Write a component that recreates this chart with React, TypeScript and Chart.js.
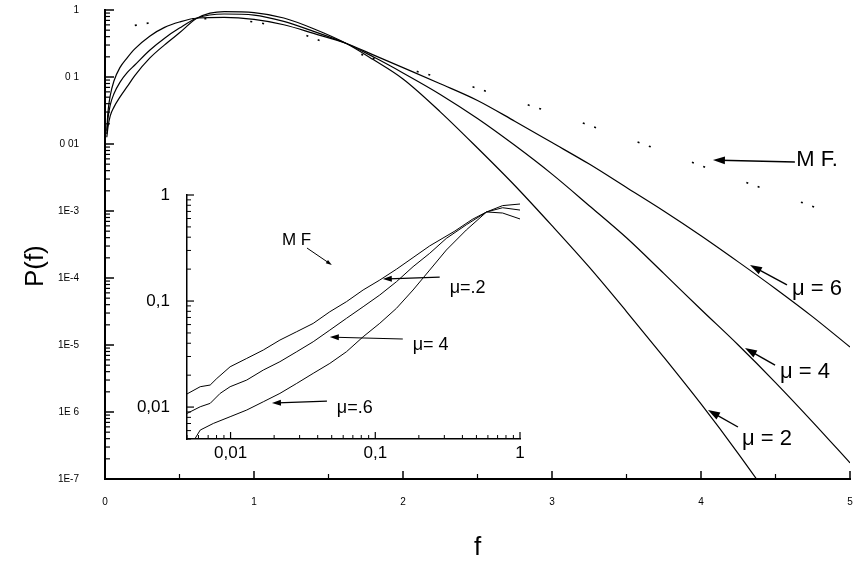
import { useEffect, useRef } from 'react';
import { Chart, registerables } from 'chart.js';

Chart.register(...registerables);

const FONT = "'Liberation Sans', Arial, Helvetica, sans-serif";

// ---- Main panel: P(f) on a log axis against f ----
const fMain = [0.012, 0.02, 0.035, 0.06, 0.1, 0.15, 0.2, 0.3, 0.4, 0.5, 0.62, 0.8, 1.0, 1.2, 1.4, 1.62, 1.8, 2.0, 2.25, 2.5, 2.75, 3.0, 3.25, 3.5, 3.75, 4.0, 4.25, 4.5, 4.75, 5.0];
const pMu2 = [0.0126, 0.0178, 0.0263, 0.0355, 0.0501, 0.0724, 0.105, 0.191, 0.302, 0.457, 0.759, 0.944, 0.912, 0.759, 0.525, 0.316, 0.182, 0.0933, 0.0302, 8.71e-3, 2.4e-3, 6.03e-4, 1.45e-4, 3.16e-5, 6.61e-6, 1.32e-6, 2.4e-7, 3.98e-8, null, null];
const pMu4 = [0.0141, 0.024, 0.038, 0.0562, 0.0832, 0.117, 0.151, 0.251, 0.38, 0.537, 0.759, 0.871, 0.841, 0.676, 0.479, 0.316, 0.2, 0.115, 0.055, 0.024, 9.55e-3, 3.55e-3, 1.2e-3, 3.98e-4, 1.17e-4, 3.39e-5, 1.0e-5, 2.75e-6, 7.08e-7, 1.74e-7];
const pMu6 = [0.0158, 0.0302, 0.0525, 0.0871, 0.138, 0.195, 0.263, 0.407, 0.55, 0.661, 0.759, 0.776, 0.724, 0.603, 0.447, 0.316, 0.214, 0.138, 0.0794, 0.0447, 0.0219, 0.0105, 5.01e-3, 2.24e-3, 1.0e-3, 4.27e-4, 1.74e-4, 6.92e-5, 2.63e-5, 9.33e-6];
const fMF = [0.2, 0.4, 0.6, 0.8, 1.0, 1.2, 1.5, 1.8, 2.1, 2.4, 2.7, 3.0, 3.3, 3.6, 3.9, 4.2, 4.5, 4.8, 5.0];
const pMF = [0.589, 0.692, 0.741, 0.724, 0.661, 0.537, 0.316, 0.191, 0.12, 0.0794, 0.0479, 0.0295, 0.0174, 0.0102, 5.75e-3, 3.24e-3, 1.86e-3, 1.07e-3, 7.59e-4];

const mainXTicks = [0, 1, 2, 3, 4, 5];
const mainXLabels = ['0', '1', '2', '3', '4', '5'];
const mainYTicks = [1e-7, 1e-6, 1e-5, 1e-4, 1e-3, 1e-2, 1e-1, 1];
const mainYLabels = ['1E-7', '1E 6', '1E-5', '1E-4', '1E-3', '0 01', '0 1', '1'];

// ---- Inset: small-f region on log-log axes ----
const insetF02 = [0.005, 0.00617, 0.00723, 0.00804, 0.00993, 0.01294, 0.01683, 0.02193, 0.02864, 0.03724, 0.04853, 0.06324, 0.08241, 0.1074, 0.14, 0.1824, 0.2377, 0.3548, 0.4677, 0.5875, 0.7586, 1.0];
const insetP02 = [0.0133, 0.01556, 0.01614, 0.01862, 0.02399, 0.02877, 0.03451, 0.04285, 0.0514, 0.06152, 0.07925, 0.09863, 0.1271, 0.1578, 0.1995, 0.257, 0.3311, 0.4571, 0.5888, 0.6918, 0.6761, 0.5943];
const insetF04 = [0.005, 0.00617, 0.00723, 0.00847, 0.00993, 0.01294, 0.01683, 0.02193, 0.02864, 0.03724, 0.04853, 0.06324, 0.08241, 0.1074, 0.14, 0.1824, 0.2377, 0.3097, 0.4266, 0.5875, 0.7586, 1.0];
const insetP04 = [0.00871, 0.01007, 0.01084, 0.01346, 0.01556, 0.01799, 0.02234, 0.02679, 0.03327, 0.0413, 0.05321, 0.06871, 0.08831, 0.114, 0.1521, 0.2109, 0.2818, 0.3899, 0.5248, 0.6918, 0.7586, 0.7211];
const insetF06 = [0.00569, 0.00617, 0.0076, 0.00993, 0.01294, 0.01683, 0.02193, 0.02864, 0.03724, 0.04853, 0.06324, 0.08241, 0.1074, 0.14, 0.1824, 0.2377, 0.3097, 0.4256, 0.5875, 0.7586, 1.0];
const insetP06 = [0.00506, 0.00607, 0.00701, 0.00811, 0.00938, 0.01122, 0.01346, 0.01671, 0.0208, 0.02582, 0.03327, 0.04603, 0.06166, 0.08531, 0.1271, 0.1959, 0.3027, 0.4677, 0.6918, 0.7943, 0.8222];

const insetTicks = [0.01, 0.1, 1];
const insetTickLabels = ['0,01', '0,1', '1'];

type Pt = [number, number];
interface Note { text: string; at: Pt; size: number }
interface Arrow { from: Pt; to: Pt; head: number; width: number }

// Curve labels and pointer arrows, placed in data coordinates
const mainNotes: Note[] = [
  { text: 'M F.', at: [4.64, 5.75e-3], size: 22 },
  { text: 'μ = 6', at: [4.61, 6.9e-5], size: 22 },
  { text: 'μ = 4', at: [4.53, 4.0e-6], size: 22 },
  { text: 'μ = 2', at: [4.275, 3.9e-7], size: 22 },
];
const mainArrows: Arrow[] = [
  { from: [4.63, 5.4e-3], to: [4.08, 5.75e-3], head: 12, width: 1.4 },
  { from: [4.577, 7.9e-5], to: [4.329, 1.56e-4], head: 12, width: 1.4 },
  { from: [4.497, 5.0e-6], to: [4.295, 9.0e-6], head: 12, width: 1.4 },
  { from: [4.248, 5.97e-7], to: [4.047, 1.07e-6], head: 12, width: 1.4 },
];
const insetNotes: Note[] = [
  { text: 'M F', at: [0.02265, 0.376], size: 17 },
  { text: 'μ=.2', at: [0.3266, 0.1327], size: 18 },
  { text: 'μ= 4', at: [0.1814, 0.03846], size: 18 },
  { text: 'μ=.6', at: [0.0542, 0.009795], size: 18 },
];
const insetArrows: Arrow[] = [
  { from: [0.03373, 0.3162], to: [0.0501, 0.2188], head: 6, width: 1 },
  { from: [0.2786, 0.1683], to: [0.1127, 0.1614], head: 9, width: 1.2 },
  { from: [0.1549, 0.04385], to: [0.04853, 0.04571], head: 9, width: 1.2 },
  { from: [0.04634, 0.0114], to: [0.01932, 0.01091], head: 9, width: 1.2 },
];

// Inward-pointing tick marks (major + minor) along the left and bottom axes
function logMarks(min: number, max: number) {
  const out: { value: number; major: boolean }[] = [];
  const e0 = Math.floor(Math.log10(min));
  const e1 = Math.ceil(Math.log10(max));
  for (let e = e0; e <= e1; e++) {
    for (let k = 1; k <= 9; k++) {
      const v = k * Math.pow(10, e);
      if (v >= min * (1 - 1e-9) && v <= max * (1 + 1e-9)) out.push({ value: v, major: k === 1 });
    }
  }
  return out;
}
function linMarks(min: number, max: number, step: number, majorEvery: number) {
  const out: { value: number; major: boolean }[] = [];
  for (let v = min; v <= max + 1e-9; v += step) {
    const r = v / majorEvery;
    out.push({ value: v, major: Math.abs(r - Math.round(r)) < 1e-9 });
  }
  return out;
}

const innerTicks = {
  id: 'innerTicks',
  afterDraw(chart: any, _args: any, opts: any) {
    const { ctx, chartArea } = chart;
    ctx.save();
    ctx.strokeStyle = '#000';
    for (const axis of ['x', 'y']) {
      const cfg = opts[axis];
      if (!cfg) continue;
      const scale = chart.scales[axis];
      const marks = cfg.log ? logMarks(scale.min, scale.max) : linMarks(scale.min, scale.max, cfg.step, cfg.majorEvery);
      for (const m of marks) {
        const p = scale.getPixelForValue(m.value);
        const len = m.major ? cfg.majorLen : cfg.minorLen;
        ctx.lineWidth = m.major ? cfg.majorWidth : cfg.minorWidth;
        ctx.beginPath();
        if (axis === 'x') {
          ctx.moveTo(p, chartArea.bottom);
          ctx.lineTo(p, chartArea.bottom - len);
        } else {
          ctx.moveTo(chartArea.left, p);
          ctx.lineTo(chartArea.left + len, p);
        }
        ctx.stroke();
      }
    }
    ctx.restore();
  },
};

const notesPlugin = {
  id: 'notes',
  afterDatasetsDraw(chart: any, _args: any, opts: any) {
    const { ctx } = chart;
    const sx = chart.scales.x;
    const sy = chart.scales.y;
    ctx.save();
    ctx.fillStyle = '#000';
    ctx.strokeStyle = '#000';
    for (const a of opts.arrows || []) {
      const x0 = sx.getPixelForValue(a.from[0]);
      const y0 = sy.getPixelForValue(a.from[1]);
      const x1 = sx.getPixelForValue(a.to[0]);
      const y1 = sy.getPixelForValue(a.to[1]);
      const ang = Math.atan2(y1 - y0, x1 - x0);
      const h = a.head;
      ctx.lineWidth = a.width;
      ctx.beginPath();
      ctx.moveTo(x0, y0);
      ctx.lineTo(x1 - Math.cos(ang) * h * 0.6, y1 - Math.sin(ang) * h * 0.6);
      ctx.stroke();
      ctx.beginPath();
      ctx.moveTo(x1, y1);
      ctx.lineTo(x1 - Math.cos(ang) * h + Math.sin(ang) * h * 0.33, y1 - Math.sin(ang) * h - Math.cos(ang) * h * 0.33);
      ctx.lineTo(x1 - Math.cos(ang) * h - Math.sin(ang) * h * 0.33, y1 - Math.sin(ang) * h + Math.cos(ang) * h * 0.33);
      ctx.closePath();
      ctx.fill();
    }
    ctx.textAlign = 'left';
    ctx.textBaseline = 'middle';
    for (const n of opts.labels || []) {
      ctx.font = `${n.size}px ${FONT}`;
      ctx.fillText(n.text, sx.getPixelForValue(n.at[0]), sy.getPixelForValue(n.at[1]));
    }
    ctx.restore();
  },
};

function series(xs: number[], ys: (number | null)[], width: number, extra: Record<string, unknown> = {}) {
  return {
    data: xs.map((x, i) => ({ x, y: ys[i] })),
    borderColor: '#000',
    backgroundColor: '#000',
    borderWidth: width,
    pointRadius: 0,
    fill: false,
    ...extra,
  };
}

function fixedTicks(values: number[]) {
  return (scale: any) => {
    scale.ticks = values.map((value) => ({ value }));
  };
}

// Fix an axis' thickness and keep its label padding from eating into the plot area
function fitX(height: number, side: number) {
  return (s: any) => {
    s.height = height;
    s.paddingLeft = side;
    s.paddingRight = side;
  };
}
function fitY(width: number, ends: number) {
  return (s: any) => {
    s.width = width;
    s.paddingTop = ends;
    s.paddingBottom = ends;
  };
}

function mainConfig(): any {
  const smooth = { cubicInterpolationMode: 'monotone' };
  return {
    type: 'line',
    data: {
      datasets: [
        series(fMain, pMu2, 1.2, smooth),
        series(fMain, pMu4, 1.2, smooth),
        series(fMain, pMu6, 1.2, smooth),
        series(fMF, pMF, 1.6, { ...smooth, borderDash: [2, 10, 2, 44] }),
      ],
    },
    options: {
      responsive: false,
      animation: false,
      layout: { padding: { left: 0, top: 10, right: 3, bottom: 0 } },
      plugins: {
        legend: { display: false },
        tooltip: { enabled: false },
        innerTicks: {
          x: { log: false, step: 0.5, majorEvery: 1, majorLen: 8, minorLen: 5, majorWidth: 1.5, minorWidth: 1.2 },
          y: { log: true, majorLen: 9, minorLen: 5, majorWidth: 1.5, minorWidth: 1.2 },
        },
        notes: { labels: mainNotes, arrows: mainArrows },
      },
      scales: {
        x: {
          type: 'linear',
          min: 0,
          max: 5,
          afterBuildTicks: fixedTicks(mainXTicks),
          afterFit: fitX(84, 3),
          grid: { display: false, drawTicks: false },
          border: { display: true, width: 2, color: '#000' },
          ticks: {
            autoSkip: false,
            maxRotation: 0,
            padding: 17,
            color: '#000',
            font: { family: FONT, size: 10 },
            callback: (_v: any, i: number) => mainXLabels[i],
          },
          title: { display: true, text: 'f', color: '#000', font: { family: FONT, size: 26 }, padding: { top: 0, bottom: 0 } },
        },
        y: {
          type: 'logarithmic',
          min: 1e-7,
          max: 1,
          afterBuildTicks: fixedTicks(mainYTicks),
          afterFit: fitY(105, 6),
          grid: { display: false, drawTicks: false },
          border: { display: true, width: 2, color: '#000' },
          ticks: {
            autoSkip: false,
            padding: 26,
            color: '#000',
            font: { family: FONT, size: 10 },
            callback: (_v: any, i: number) => mainYLabels[i],
          },
          title: { display: true, text: 'P(f)      ', color: '#000', font: { family: FONT, size: 26 }, padding: { top: 20, bottom: 0 } },
        },
      },
    },
    plugins: [innerTicks, notesPlugin],
  };
}

function insetConfig(): any {
  return {
    type: 'line',
    data: {
      datasets: [
        series(insetF02, insetP02, 1),
        series(insetF04, insetP04, 1),
        series(insetF06, insetP06, 1),
      ],
    },
    options: {
      responsive: false,
      animation: false,
      layout: { padding: { left: 0, top: 15, right: 20, bottom: 0 } },
      plugins: {
        legend: { display: false },
        tooltip: { enabled: false },
        innerTicks: {
          x: { log: true, majorLen: 7, minorLen: 4, majorWidth: 1.2, minorWidth: 1 },
          y: { log: true, majorLen: 7, minorLen: 4, majorWidth: 1.2, minorWidth: 1 },
        },
        notes: { labels: insetNotes, arrows: insetArrows },
      },
      scales: {
        x: {
          type: 'logarithmic',
          min: 0.005,
          max: 1,
          afterBuildTicks: fixedTicks(insetTicks),
          afterFit: fitX(31, 5),
          grid: { display: false, drawTicks: false },
          border: { display: true, width: 1.5, color: '#000' },
          ticks: {
            autoSkip: false,
            maxRotation: 0,
            padding: 4,
            color: '#000',
            font: { family: FONT, size: 17 },
            callback: (_v: any, i: number) => insetTickLabels[i],
          },
        },
        y: {
          type: 'logarithmic',
          min: 0.005,
          max: 1,
          afterBuildTicks: fixedTicks(insetTicks),
          afterFit: fitY(67, 9),
          grid: { display: false, drawTicks: false },
          border: { display: true, width: 1.5, color: '#000' },
          ticks: {
            autoSkip: false,
            padding: 17,
            color: '#000',
            font: { family: FONT, size: 17 },
            callback: (_v: any, i: number) => insetTickLabels[i],
          },
        },
      },
    },
    plugins: [innerTicks, notesPlugin],
  };
}

export default function App() {
  const mainRef = useRef<HTMLCanvasElement>(null);
  const insetRef = useRef<HTMLCanvasElement>(null);

  useEffect(() => {
    document.body.style.margin = '0';
    const main = new Chart(mainRef.current as HTMLCanvasElement, mainConfig());
    const inset = new Chart(insetRef.current as HTMLCanvasElement, insetConfig());
    return () => {
      main.destroy();
      inset.destroy();
    };
  }, []);

  return (
    <div style={{ position: 'relative', width: 853, height: 563, background: '#fff' }}>
      <canvas ref={mainRef} width={853} height={563} style={{ position: 'absolute', left: 0, top: 0, width: 853, height: 563 }} />
      <canvas ref={insetRef} width={420} height={290} style={{ position: 'absolute', left: 120, top: 180, width: 420, height: 290 }} />
    </div>
  );
}
